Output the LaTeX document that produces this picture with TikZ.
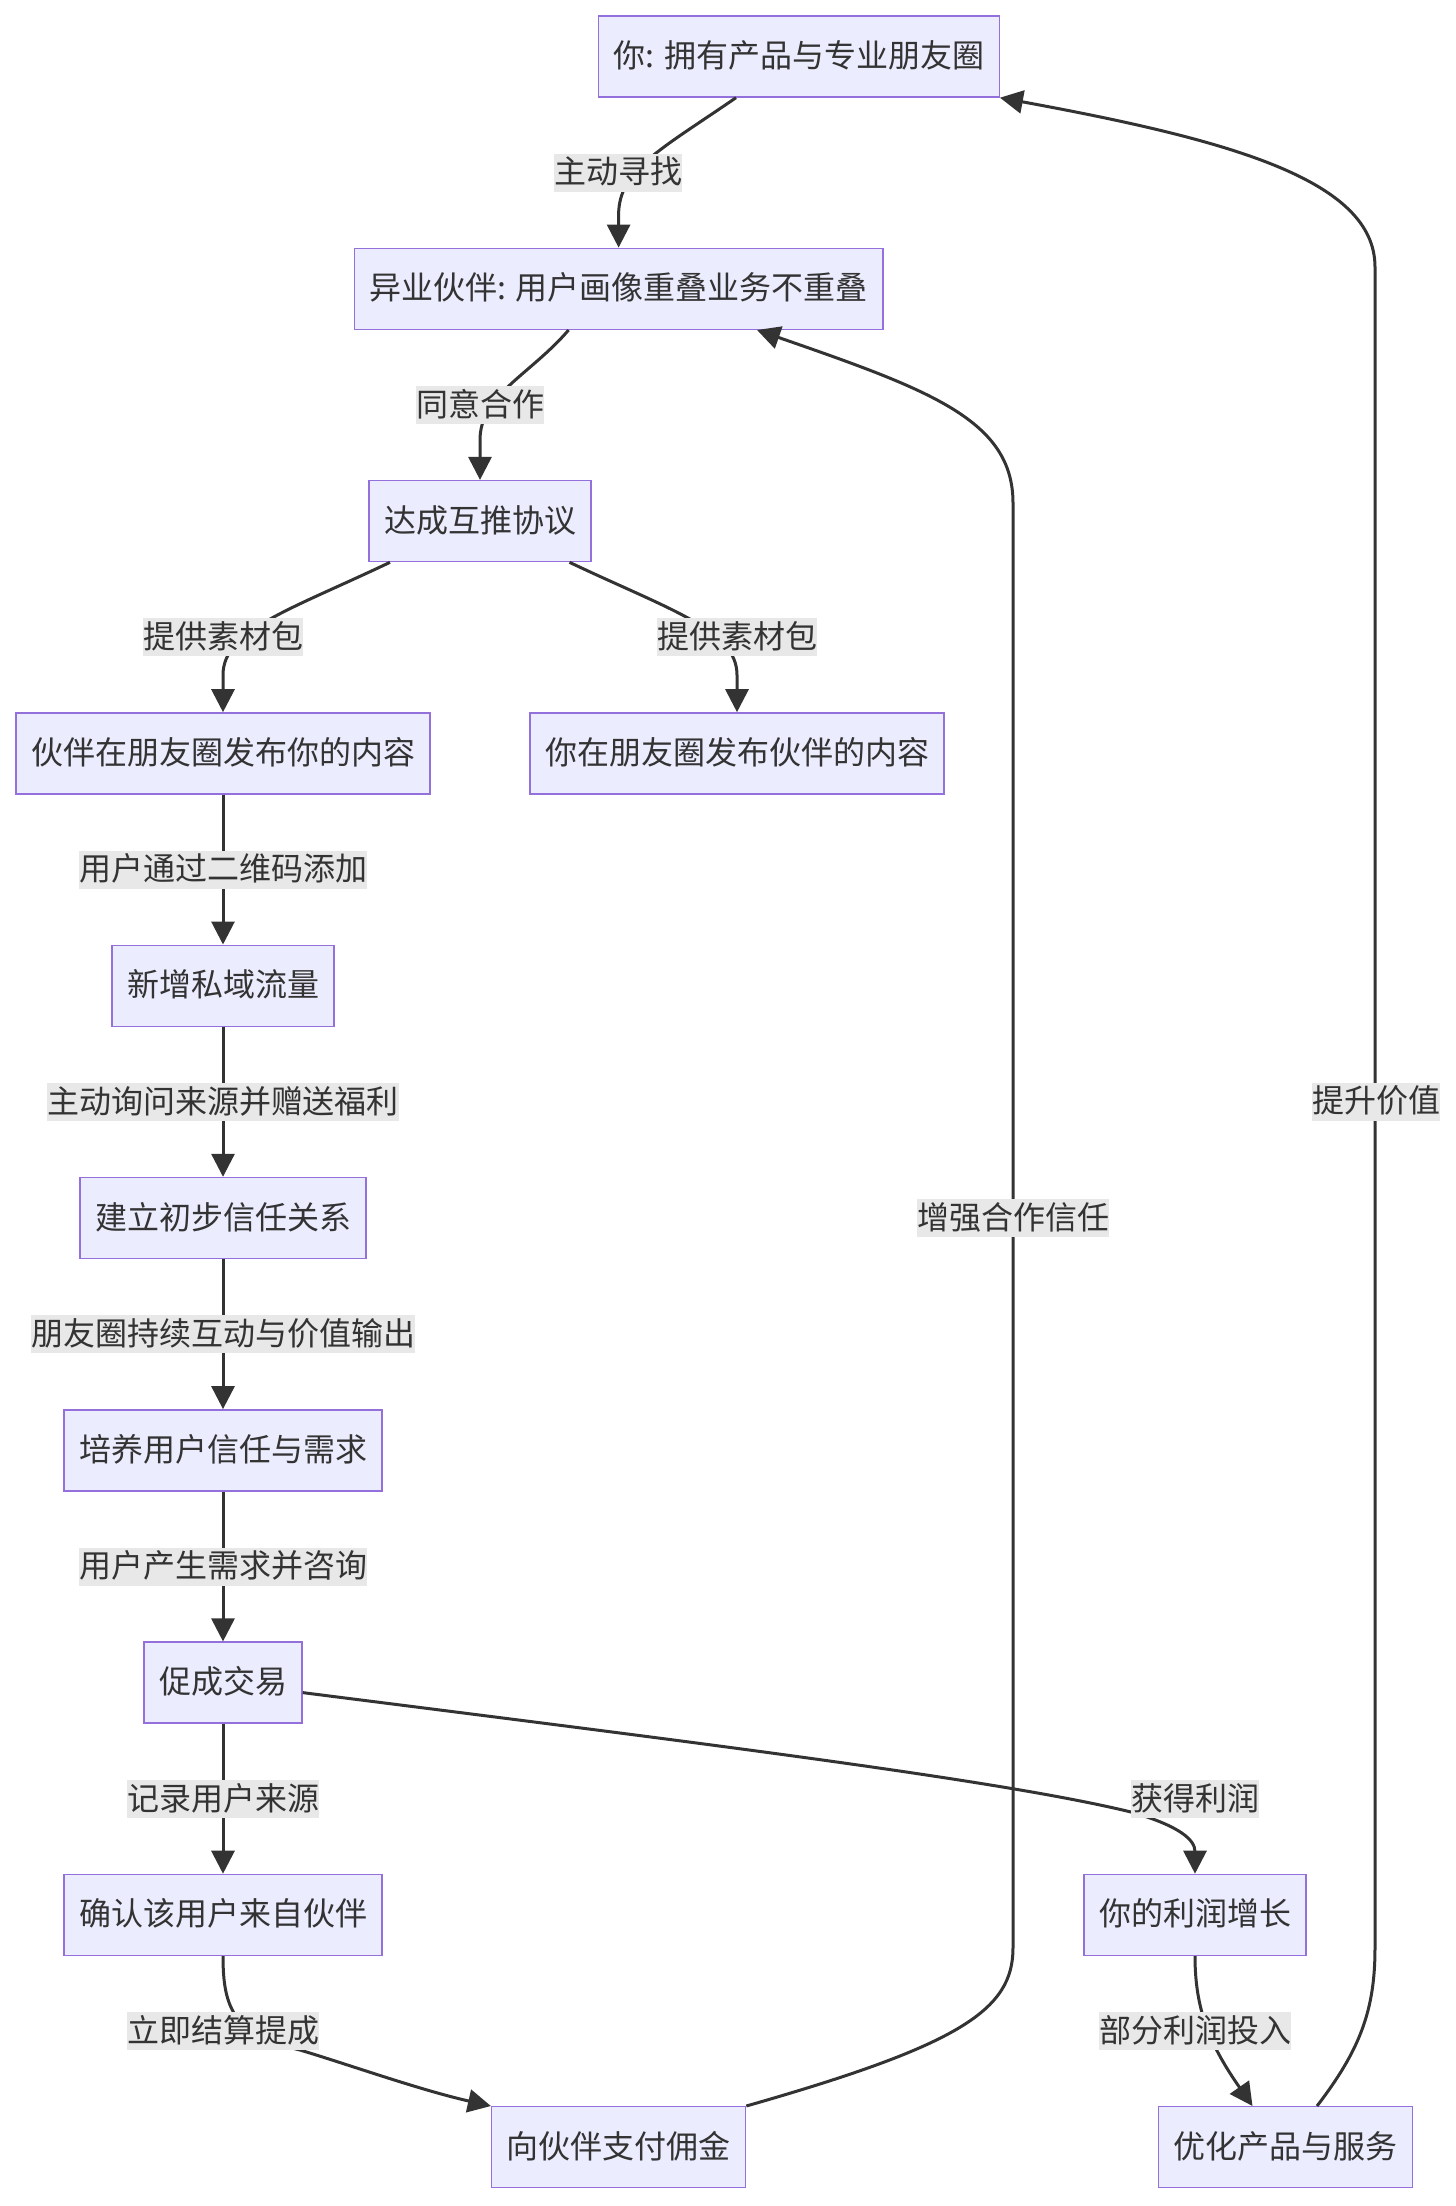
\documentclass[tikz,border=0pt]{standalone}
\usepackage{fontspec}
\newfontfamily\cjk{Noto Sans CJK SC}
\usetikzlibrary{arrows.meta}
\definecolor{boxfill}{HTML}{ECECFF}
\definecolor{boxline}{HTML}{9370DB}
\definecolor{ink}{HTML}{333333}
\definecolor{lblfill}{HTML}{E8E8E8}
\begin{document}
\begin{tikzpicture}[x=1pt,y=-1pt,
  box/.style={draw=boxline, line width=1.4pt, fill=boxfill, text=ink, font=\cjk\fontsize{32}{38}\selectfont, inner xsep=15pt, inner ysep=0pt, minimum height=81pt, text height=27pt, text depth=5pt},
  lbl/.style={fill=lblfill, text=ink, font=\cjk\fontsize{32}{38}\selectfont, inner sep=0pt, minimum height=38pt, text height=27pt, text depth=5pt},
  edge/.style={draw=ink, line width=3pt, -{Triangle[length=23pt,width=23pt]}}]
\useasboundingbox (0,0) rectangle (1456,2206);
\node[box] (you) at (799,56.5) {你: 拥有产品与专业朋友圈};
\node[box] (partner) at (618.6,288.8) {异业伙伴: 用户画像重叠业务不重叠};
\node[box] (deal) at (480,521.1) {达成互推协议};
\node[box] (ppost) at (223,753.4) {伙伴在朋友圈发布你的内容};
\node[box] (ypost) at (737,753.4) {你在朋友圈发布伙伴的内容};
\node[box] (traffic) at (223,985.7) {新增私域流量};
\node[box] (trust) at (223,1218) {建立初步信任关系};
\node[box] (need) at (223,1450.3) {培养用户信任与需求};
\node[box] (sale) at (223,1682.6) {促成交易};
\node[box] (source) at (223,1914.9) {确认该用户来自伙伴};
\node[box] (pay) at (618.6,2147.2) {向伙伴支付佣金};
\node[box] (profit) at (1195,1914.9) {你的利润增长};
\node[box] (improve) at (1285.5,2147.2) {优化产品与服务};

\draw[edge] ([xshift=-63pt]you.south) .. controls (660,150) and (618.6,170) .. (618.6,215) -- (partner.north);
\draw[edge] ([xshift=-50pt]partner.south) .. controls (530,375) and (480,395) .. (480,440) -- (deal.north);
\draw[edge] ([xshift=-90pt]deal.south) .. controls (290,610) and (223,630) .. (223,675) -- (ppost.north);
\draw[edge] ([xshift=89.5pt]deal.south) .. controls (670,610) and (737,630) .. (737,675) -- (ypost.north);
\draw[edge] (ppost) -- (traffic);
\draw[edge] (traffic) -- (trust);
\draw[edge] (trust) -- (need);
\draw[edge] (need) -- (sale);
\draw[edge] (sale) -- (source);
\draw[edge] ([yshift=-10pt]sale.east) .. controls (700,1743) and (1000,1780) .. (1131,1812) .. controls (1180,1826) and (1195,1840) .. (profit.north);
\draw[edge] (source.south) .. controls (223,2010) and (235,2035) .. (300,2050) .. controls (350,2065) and (420,2090) .. (pay.north west);
\draw[edge] (profit.south) .. controls (1195,2010) and (1210,2045) .. ([xshift=-33pt]improve.north);
\draw[edge] (pay.north east) .. controls (960,2045) and (1013,2010) .. (1013,1948) -- (1013,503) .. controls (1013,420) and (930,390) .. ([xshift=138.4pt]partner.south);
\draw[edge] ([xshift=31.5pt]improve.north) .. controls (1360,2050) and (1375,2010) .. (1375,1948) -- (1375,267) .. controls (1375,180) and (1230,140) .. (you.south east);

\node[lbl] (l1) at (618,172.6) {主动寻找};
\node[lbl] (l2) at (480,405) {同意合作};
\node[lbl] (l3) at (223,637) {提供素材包};
\node[lbl] (l4) at (737,637) {提供素材包};
\node[lbl] (l5) at (223,869.5) {用户通过二维码添加};
\node[lbl] (l6) at (223,1102) {主动询问来源并赠送福利};
\node[lbl] (l7) at (223,1334) {朋友圈持续互动与价值输出};
\node[lbl] (l8) at (223,1566.5) {用户产生需求并咨询};
\node[lbl] (l9) at (223,1799) {记录用户来源};
\node[lbl] (l10) at (1195,1799) {获得利润};
\node[lbl] (l11) at (223,2031) {立即结算提成};
\node[lbl] (l12) at (1195,2031) {部分利润投入};
\node[lbl] (l13) at (1013,1218) {增强合作信任};
\node[lbl] (l14) at (1376,1101.5) {提升价值};
\end{tikzpicture}
\end{document}
